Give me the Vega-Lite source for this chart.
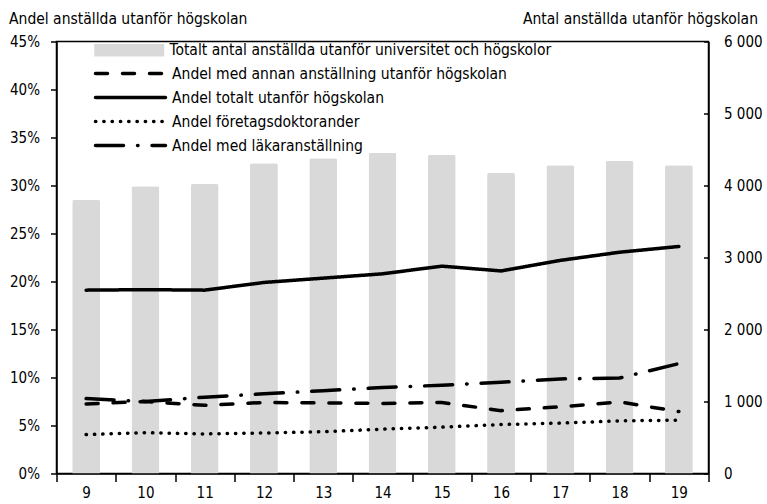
{
  "$schema": "https://vega.github.io/schema/vega-lite/v6.json",
  "width": 652,
  "height": 432,
  "autosize": {"type": "none"},
  "padding": {"left": 56.5, "top": 41.5, "right": 58.5, "bottom": 30.5},
  "config": {
    "font": "DejaVu Sans Condensed, Roboto, sans-serif",
    "view": {"stroke": "black", "strokeWidth": 1.5},
    "axis": {
      "labelFont": "DejaVu Sans Condensed, Roboto, sans-serif",
      "labelFontSize": 15,
      "labelColor": "black",
      "titleFont": "DejaVu Sans Condensed, Roboto, sans-serif",
      "titleFontSize": 15.5,
      "titleFontWeight": "normal",
      "titleColor": "black",
      "domainColor": "black",
      "domainWidth": 1.5,
      "tickColor": "black",
      "tickWidth": 1.5,
      "grid": false
    },
    "legend": {
      "labelFont": "DejaVu Sans Condensed, Roboto, sans-serif",
      "labelFontSize": 15.5,
      "labelColor": "black",
      "labelLimit": 600,
      "padding": 0,
      "title": null
    }
  },
  "datasets": {
    "antal": [
      {"ar": 9, "antal": 3800, "serie": "Totalt antal anställda utanför universitet och högskolor"},
      {"ar": 10, "antal": 3990, "serie": "Totalt antal anställda utanför universitet och högskolor"},
      {"ar": 11, "antal": 4020, "serie": "Totalt antal anställda utanför universitet och högskolor"},
      {"ar": 12, "antal": 4310, "serie": "Totalt antal anställda utanför universitet och högskolor"},
      {"ar": 13, "antal": 4380, "serie": "Totalt antal anställda utanför universitet och högskolor"},
      {"ar": 14, "antal": 4455, "serie": "Totalt antal anställda utanför universitet och högskolor"},
      {"ar": 15, "antal": 4425, "serie": "Totalt antal anställda utanför universitet och högskolor"},
      {"ar": 16, "antal": 4175, "serie": "Totalt antal anställda utanför universitet och högskolor"},
      {"ar": 17, "antal": 4280, "serie": "Totalt antal anställda utanför universitet och högskolor"},
      {"ar": 18, "antal": 4340, "serie": "Totalt antal anställda utanför universitet och högskolor"},
      {"ar": 19, "antal": 4280, "serie": "Totalt antal anställda utanför universitet och högskolor"}
    ],
    "andel": [
      {"ar": 9, "serie": "Andel med annan anställning utanför högskolan", "andel": 7.25},
      {"ar": 10, "serie": "Andel med annan anställning utanför högskolan", "andel": 7.5},
      {"ar": 11, "serie": "Andel med annan anställning utanför högskolan", "andel": 7.1},
      {"ar": 12, "serie": "Andel med annan anställning utanför högskolan", "andel": 7.4},
      {"ar": 13, "serie": "Andel med annan anställning utanför högskolan", "andel": 7.35},
      {"ar": 14, "serie": "Andel med annan anställning utanför högskolan", "andel": 7.3},
      {"ar": 15, "serie": "Andel med annan anställning utanför högskolan", "andel": 7.4},
      {"ar": 16, "serie": "Andel med annan anställning utanför högskolan", "andel": 6.55},
      {"ar": 17, "serie": "Andel med annan anställning utanför högskolan", "andel": 6.95},
      {"ar": 18, "serie": "Andel med annan anställning utanför högskolan", "andel": 7.45},
      {"ar": 19, "serie": "Andel med annan anställning utanför högskolan", "andel": 6.45},
      {"ar": 9, "serie": "Andel totalt utanför högskolan", "andel": 19.1},
      {"ar": 10, "serie": "Andel totalt utanför högskolan", "andel": 19.15},
      {"ar": 11, "serie": "Andel totalt utanför högskolan", "andel": 19.1},
      {"ar": 12, "serie": "Andel totalt utanför högskolan", "andel": 19.9},
      {"ar": 13, "serie": "Andel totalt utanför högskolan", "andel": 20.35},
      {"ar": 14, "serie": "Andel totalt utanför högskolan", "andel": 20.8},
      {"ar": 15, "serie": "Andel totalt utanför högskolan", "andel": 21.6},
      {"ar": 16, "serie": "Andel totalt utanför högskolan", "andel": 21.1},
      {"ar": 17, "serie": "Andel totalt utanför högskolan", "andel": 22.2},
      {"ar": 18, "serie": "Andel totalt utanför högskolan", "andel": 23.05},
      {"ar": 19, "serie": "Andel totalt utanför högskolan", "andel": 23.65},
      {"ar": 9, "serie": "Andel företagsdoktorander", "andel": 4.05},
      {"ar": 10, "serie": "Andel företagsdoktorander", "andel": 4.25},
      {"ar": 11, "serie": "Andel företagsdoktorander", "andel": 4.12},
      {"ar": 12, "serie": "Andel företagsdoktorander", "andel": 4.22},
      {"ar": 13, "serie": "Andel företagsdoktorander", "andel": 4.35},
      {"ar": 14, "serie": "Andel företagsdoktorander", "andel": 4.62},
      {"ar": 15, "serie": "Andel företagsdoktorander", "andel": 4.83},
      {"ar": 16, "serie": "Andel företagsdoktorander", "andel": 5.1},
      {"ar": 17, "serie": "Andel företagsdoktorander", "andel": 5.25},
      {"ar": 18, "serie": "Andel företagsdoktorander", "andel": 5.48},
      {"ar": 19, "serie": "Andel företagsdoktorander", "andel": 5.56},
      {"ar": 9, "serie": "Andel med läkaranställning", "andel": 7.8},
      {"ar": 10, "serie": "Andel med läkaranställning", "andel": 7.5},
      {"ar": 11, "serie": "Andel med läkaranställning", "andel": 7.95},
      {"ar": 12, "serie": "Andel med läkaranställning", "andel": 8.3},
      {"ar": 13, "serie": "Andel med läkaranställning", "andel": 8.62},
      {"ar": 14, "serie": "Andel med läkaranställning", "andel": 8.95},
      {"ar": 15, "serie": "Andel med läkaranställning", "andel": 9.2},
      {"ar": 16, "serie": "Andel med läkaranställning", "andel": 9.5},
      {"ar": 17, "serie": "Andel med läkaranställning", "andel": 9.85},
      {"ar": 18, "serie": "Andel med läkaranställning", "andel": 9.95},
      {"ar": 19, "serie": "Andel med läkaranställning", "andel": 11.45}
    ]
  },
  "encoding": {
    "x": {
      "field": "ar",
      "type": "ordinal",
      "scale": {"paddingInner": 0, "paddingOuter": 0},
      "axis": {
        "title": null,
        "labelAngle": 0,
        "tickBand": "extent",
        "tickSize": 8,
        "labelPadding": 4,
        "domain": true
      }
    }
  },
  "layer": [
    {
      "data": {"name": "antal"},
      "mark": {"type": "bar", "width": {"band": 0.47}, "cornerRadiusTopLeft": 2, "cornerRadiusTopRight": 2},
      "encoding": {
        "y": {
          "field": "antal",
          "type": "quantitative",
          "scale": {"domain": [0, 6000]},
          "axis": {
            "orient": "right",
            "values": [0, 1000, 2000, 3000, 4000, 5000, 6000],
            "labelExpr": "replace(format(datum.value, ','), ',', ' ')",
            "title": "Antal anställda utanför högskolan",
            "titleAngle": 0,
            "titleAlign": "right",
            "titleBaseline": "alphabetic",
            "titleX": 49,
            "titleY": -18,
            "tickSize": -5,
            "labelPadding": 20
          }
        },
        "fill": {
          "field": "serie",
          "type": "nominal",
          "scale": {"range": ["#d9d9d9"]},
          "legend": {
            "orient": "none",
            "legendX": 65,
            "legendY": 1,
            "symbolType": "M-5,-0.9H5V0.9H-5Z",
            "symbolSize": 196,
            "symbolStrokeWidth": 0,
            "labelOffset": 32.5
          }
        }
      }
    },
    {
      "data": {"name": "andel"},
      "mark": {"type": "line", "strokeWidth": 3.5, "strokeCap": "round", "color": "black"},
      "encoding": {
        "y": {
          "field": "andel",
          "type": "quantitative",
          "scale": {"domain": [0, 45]},
          "axis": {
            "orient": "left",
            "values": [0, 5, 10, 15, 20, 25, 30, 35, 40, 45],
            "labelExpr": "datum.value + '%'",
            "title": "Andel  anställda utanför högskolan",
            "titleAngle": 0,
            "titleAlign": "left",
            "titleBaseline": "alphabetic",
            "titleX": -48,
            "titleY": -18,
            "tickSize": 6,
            "labelPadding": 11
          }
        },
        "strokeDash": {
          "field": "serie",
          "type": "nominal",
          "scale": {
            "domain": ["Andel med annan anställning utanför högskolan", "Andel totalt utanför högskolan", "Andel företagsdoktorander", "Andel med läkaranställning"],
            "range": [[12, 15], [1, 0], [0.3, 8], [28, 14, 0.5, 14]]
          },
          "legend": {
            "orient": "none",
            "legendX": 65,
            "legendY": 23,
            "symbolType": "M-5,0H5",
            "symbolSize": 196,
            "symbolStrokeWidth": 3.5,
            "symbolStrokeColor": "black",
            "labelOffset": 32.5,
            "rowPadding": 6,
            "encoding": {"symbols": {"strokeCap": {"value": "round"}}}
          }
        }
      }
    }
  ],
  "resolve": {"scale": {"y": "independent"}}
}
